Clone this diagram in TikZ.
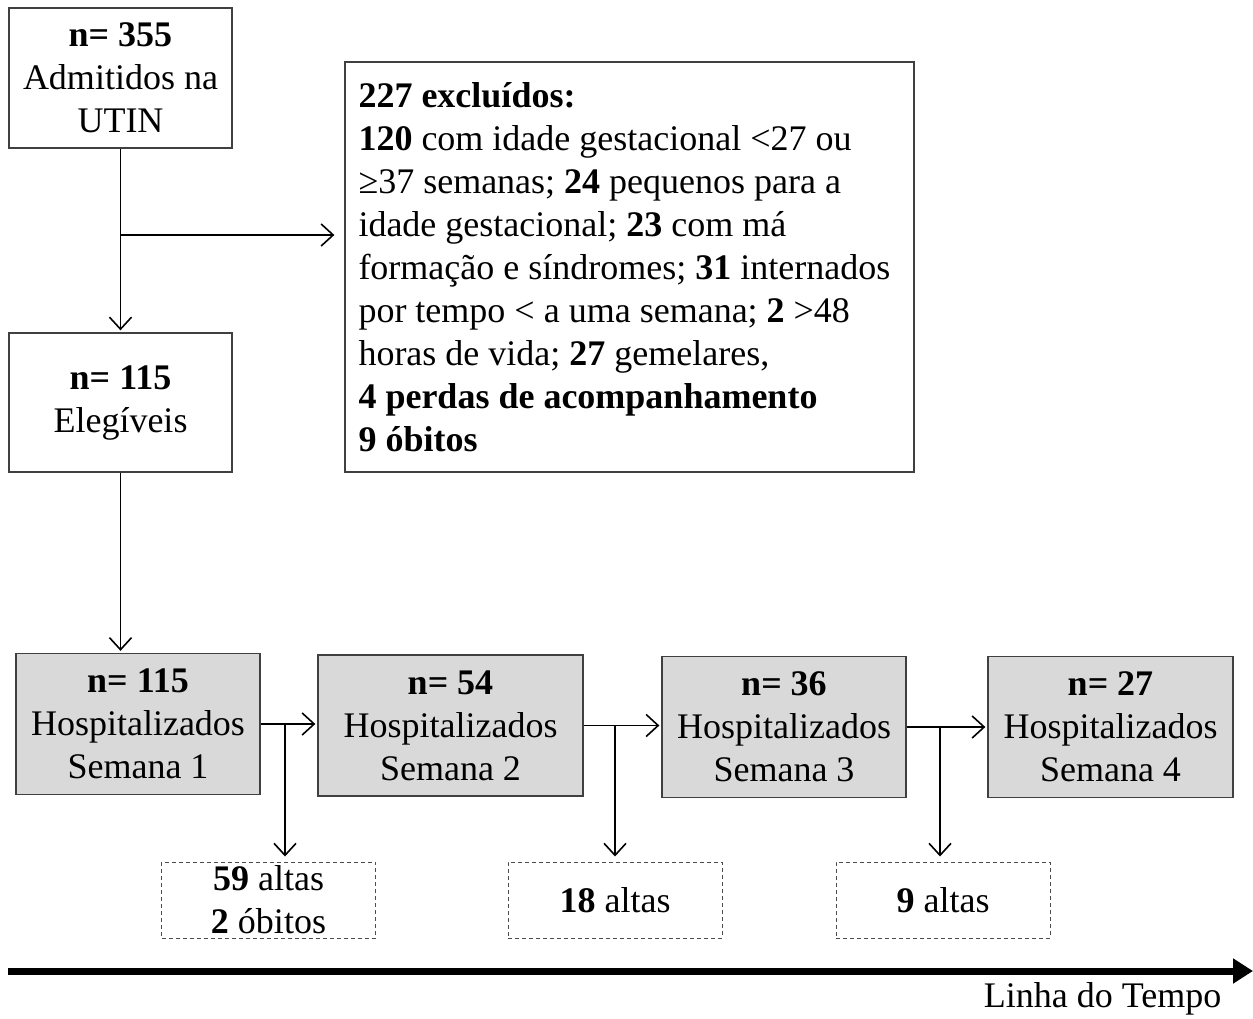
\documentclass[tikz,border=0pt]{standalone}
\usepackage{fontspec}
\setmainfont{Liberation Serif}
\usetikzlibrary{arrows.meta}

\begin{document}
\begin{tikzpicture}[x=1pt, y=-1pt, >={Straight Barb[length=12pt,width=22pt]}, line width=1.6pt,
	font=\fontsize{36}{43}\selectfont,
	caixa/.style={draw=black!75, line width=1.3pt, inner sep=0pt, align=center},
	semana/.style={caixa, fill=black!15},
	saida/.style={draw=black!70, line width=1pt, dash pattern=on 4pt off 3pt, inner sep=0pt,
		align=center, minimum width=214pt, minimum height=76pt},
	seta/.style={->, shorten >=2pt}]
	
	\useasboundingbox (0,0) rectangle (1253,1019);
	
	\node[caixa, minimum width=223pt, minimum height=140pt] (adm) at (120.5,78)
	{\textbf{n= 355}\\Admitidos na\\UTIN};
	\node[caixa, minimum width=223pt, minimum height=139pt] (eleg) at (120.5,402.5)
	{\textbf{n= 115}\\Elegíveis};
	\node[caixa, minimum width=569pt, minimum height=410pt, text width=542pt, align=flush left] (exc) at (629.5,267)
	{\textbf{227 excluídos:}\\
		\textbf{120} com idade gestacional <27 ou\\
		≥37 semanas; \textbf{24} pequenos para a\\
		idade gestacional; \textbf{23} com má\\
		formação e síndromes; \textbf{31} internados\\
		por tempo < a uma semana; \textbf{2} >48\\
		horas de vida; \textbf{27} gemelares,\\
		\textbf{4 perdas de acompanhamento}\\
		\textbf{9 óbitos}};
	
	\foreach \i/\cx/\cy/\w/\n in {1/138/724/244/115, 2/450.5/725.5/265/54, 3/784/727/244/36, 4/1110.5/727/245/27}
	\node[semana, minimum width=\w pt, minimum height=141pt] (h\i) at (\cx,\cy)
	{\textbf{n= \n}\\Hospitalizados\\Semana \i};
	
	\node[saida] (d1) at (268.5,900) {\textbf{59} altas\\\textbf{2} óbitos};
	\node[saida] (d2) at (615,900) {\textbf{18} altas};
	\node[saida] (d3) at (943,900) {\textbf{9} altas};
	
	\draw[seta] (adm) -- (eleg);
	\coordinate (ramo) at (adm.south |- 0,235);
	\draw[seta, shorten >=10pt] (ramo) -- (ramo -| exc.west);
	\draw[seta] (eleg.south) -- (eleg.south |- h1.north);
	
	\foreach \a/\b/\xs in {1/2/285, 2/3/615, 3/4/940}{
		\draw[seta] (h\a.east) -- (h\a.east -| h\b.west);
		\coordinate (r\a) at (h\a.east -| \xs,0);
		\draw[seta, shorten >=5pt] (r\a) -- (r\a |- d\a.north);
	}
	
	\coordinate (t0) at (8,971);
	\coordinate (t1) at (1253,971);
	\draw[line width=7pt, -{Triangle[length=20pt,width=24pt]}] (t0) -- (t1);
	\node[anchor=east, inner sep=0pt] (tempo) at (1222,999) {Linha do Tempo};
	
\end{tikzpicture}
\end{document}
